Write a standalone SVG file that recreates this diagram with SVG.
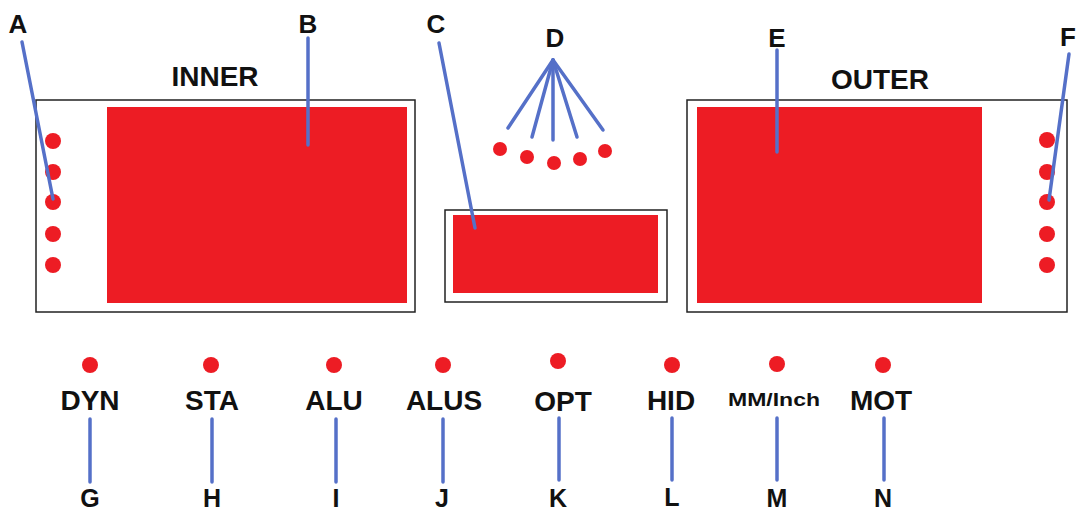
<svg xmlns="http://www.w3.org/2000/svg" width="1077" height="513" viewBox="0 0 1077 513">
<style>
.t{font-family:"Liberation Sans",Arial,sans-serif;font-weight:bold;fill:#111;text-anchor:middle}
.big{font-size:28px}
.let{font-size:26px}
.bl{font-size:25px}
.box{fill:#fff;stroke:#222;stroke-width:1.5}
.red{fill:#ED1C24}
.ln{stroke:#5570C8;stroke-width:3.5;stroke-linecap:round;fill:none}
</style>
<rect width="1077" height="513" fill="#fff"/>
<g id="inner">
<rect class="box" x="36" y="100" width="379" height="212"/>
<rect class="red" x="107" y="107" width="300" height="196"/>
<circle class="red" cx="53" cy="141" r="8"/>
<circle class="red" cx="53" cy="172" r="8"/>
<circle class="red" cx="53" cy="202" r="8"/>
<circle class="red" cx="53" cy="234" r="8"/>
<circle class="red" cx="53" cy="265" r="8"/>
<text class="t big" x="215" y="86">INNER</text>
</g>
<g id="center">
<rect class="box" x="445" y="210" width="222" height="92"/>
<rect class="red" x="453" y="215" width="205" height="78"/>
</g>
<g id="d-dots">
<circle class="red" cx="500" cy="149" r="7"/>
<circle class="red" cx="527" cy="157" r="7"/>
<circle class="red" cx="554" cy="163" r="7"/>
<circle class="red" cx="580" cy="159" r="7"/>
<circle class="red" cx="605" cy="151" r="7"/>
</g>
<g id="outer">
<rect class="box" x="687" y="100" width="380" height="212"/>
<rect class="red" x="697" y="107" width="285" height="196"/>
<circle class="red" cx="1047" cy="140" r="8"/>
<circle class="red" cx="1047" cy="172" r="8"/>
<circle class="red" cx="1047" cy="202" r="8"/>
<circle class="red" cx="1047" cy="234" r="8"/>
<circle class="red" cx="1047" cy="265" r="8"/>
<text class="t big" x="880" y="89">OUTER</text>
</g>
<g id="bottom-leds">
<circle class="red" cx="90" cy="365" r="8"/>
<circle class="red" cx="211" cy="365" r="8"/>
<circle class="red" cx="334" cy="365" r="8"/>
<circle class="red" cx="443" cy="365" r="8"/>
<circle class="red" cx="558" cy="361" r="8"/>
<circle class="red" cx="672" cy="365" r="8"/>
<circle class="red" cx="777" cy="364" r="8"/>
<circle class="red" cx="883" cy="365" r="8"/>
<text class="t big" x="90" y="410">DYN</text>
<text class="t big" x="212" y="410">STA</text>
<text class="t big" x="334" y="410">ALU</text>
<text class="t big" x="444" y="410">ALUS</text>
<text class="t big" x="563" y="411">OPT</text>
<text class="t big" x="671" y="410">HID</text>
<text class="t" style="font-size:19px" x="774" y="406" textLength="92" lengthAdjust="spacingAndGlyphs">MM/Inch</text>
<text class="t big" x="881" y="410">MOT</text>
</g>
<g id="connectors">
<line class="ln" x1="22" y1="42" x2="53" y2="199"/>
<line class="ln" x1="308" y1="38" x2="308" y2="145"/>
<line class="ln" x1="439" y1="43" x2="475" y2="228"/>
<line class="ln" x1="553" y1="60" x2="508" y2="128"/>
<line class="ln" x1="553" y1="60" x2="532" y2="137"/>
<line class="ln" x1="553" y1="60" x2="553" y2="140"/>
<line class="ln" x1="553" y1="60" x2="577" y2="137"/>
<line class="ln" x1="553" y1="60" x2="603" y2="130"/>
<line class="ln" x1="777" y1="50" x2="777" y2="152"/>
<line class="ln" x1="1069" y1="54" x2="1049" y2="200"/>
<line class="ln" x1="90" y1="419" x2="90" y2="482"/>
<line class="ln" x1="212" y1="419" x2="212" y2="482"/>
<line class="ln" x1="336" y1="419" x2="336" y2="482"/>
<line class="ln" x1="443" y1="419" x2="443" y2="482"/>
<line class="ln" x1="559" y1="418" x2="559" y2="480"/>
<line class="ln" x1="672" y1="418" x2="672" y2="480"/>
<line class="ln" x1="777" y1="418" x2="777" y2="480"/>
<line class="ln" x1="884" y1="418" x2="884" y2="480"/>
</g>
<g id="labels">
<text class="t let" x="18" y="33">A</text>
<text class="t let" x="308" y="33">B</text>
<text class="t let" x="436" y="33">C</text>
<text class="t let" x="555" y="47">D</text>
<text class="t let" x="777" y="47">E</text>
<text class="t let" x="1068" y="46">F</text>
<text class="t bl" x="90" y="507">G</text>
<text class="t bl" x="212" y="507">H</text>
<text class="t bl" x="336" y="507">I</text>
<text class="t bl" x="442" y="507">J</text>
<text class="t bl" x="558" y="507">K</text>
<text class="t bl" x="672" y="506">L</text>
<text class="t bl" x="777" y="507">M</text>
<text class="t bl" x="883" y="507">N</text>
</g>
</svg>
